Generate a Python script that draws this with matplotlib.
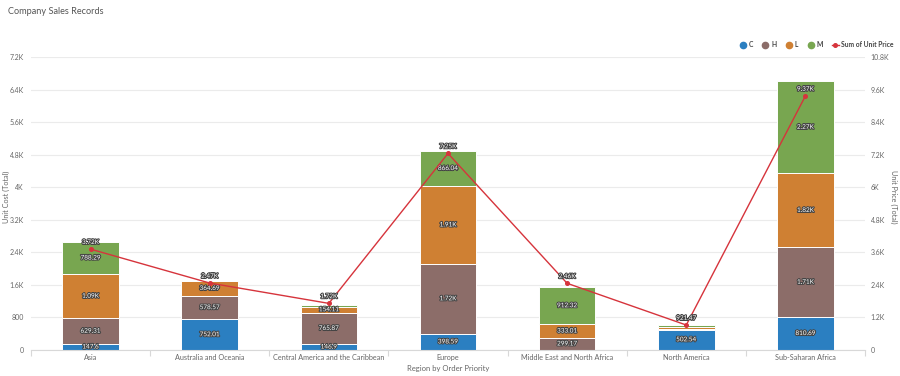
import matplotlib
matplotlib.use("Agg")
import matplotlib.pyplot as plt
import matplotlib.patheffects as pe
import numpy as np
from matplotlib.lines import Line2D

plt.rcParams["font.family"] = ["Lato", "DejaVu Sans"]

regions = ["Asia", "Australia and Oceania", "Central America and the Caribbean", "Europe",
           "Middle East and North Africa", "North America", "Sub-Saharan Africa"]
cost_c = [147.6, 752.01, 146.9, 398.59, 0, 502.54, 810.69]
cost_h = [629.31, 578.57, 765.87, 1720, 299.17, 15, 1710]
cost_l = [1090, 364.69, 154.11, 1910, 333.01, 45, 1820]
cost_m = [788.29, 0, 40, 866.04, 912.32, 50, 2270]
unit_price = [3720, 2470, 1720, 7250, 2460, 921.47, 9370]

left_ticks = [0, 800, 1600, 2400, 3200, 4000, 4800, 5600, 6400, 7200]
right_ticks = [0, 1200, 2400, 3600, 4800, 6000, 7200, 8400, 9600, 10800]

COLORS = {"C": "#2b7fc1", "H": "#8c6d69", "L": "#cf8033", "M": "#78a650"}
RED = "#d6343c"
GRID = "#ebebeb"
TXT = "#666666"


def fmt_tick(v):
    if v >= 1000:
        return f"{v/1000:g}K"
    return f"{v:g}"


def fmt_val(v):
    if v >= 1000:
        return f"{v/1000:.2f}".rstrip("0").rstrip(".") + "K"
    return f"{v:.2f}".rstrip("0").rstrip(".")


halo = [pe.withStroke(linewidth=1.5, foreground="#444444")]

fig = plt.figure(figsize=(9, 3.76), dpi=100)
ax = fig.add_axes([0.0344, 0.0691, 0.9267, 0.7789])
ax2 = ax.twinx()

x = np.arange(len(regions))
bottom = np.zeros(len(regions))
for name, vals in [("C", cost_c), ("H", cost_h), ("L", cost_l), ("M", cost_m)]:
    vals = np.array(vals, dtype=float)
    ax.bar(x, vals, width=0.475, bottom=bottom, color=COLORS[name],
           edgecolor="white", linewidth=0.7, zorder=2)
    for xi, b, v in zip(x, bottom, vals):
        if v >= 120:
            ax.text(xi, b + v / 2, fmt_val(v), ha="center", va="center", fontsize=4.6,
                    color="white", path_effects=halo, zorder=4)
    bottom += vals

ax.set_xlim(-0.5, len(regions) - 0.5)
ax.set_ylim(0, 7200)
ax.set_yticks(left_ticks)
ax.set_yticklabels([fmt_tick(t) for t in left_ticks])
ax.grid(axis="y", color=GRID, lw=0.8, zorder=0)
ax.set_axisbelow(True)
ax.set_xticks(x)
ax.set_xticklabels(regions)
ax.set_xticks(np.arange(len(regions) + 1) - 0.5, minor=True)
ax.tick_params(axis="x", which="major", length=0, labelsize=5.2, labelcolor=TXT, pad=3)
ax.tick_params(axis="x", which="minor", length=4, color="#d8d8d8", width=0.8)
ax.tick_params(axis="y", length=0, labelsize=5.0, labelcolor=TXT, pad=5)
for s in ["top", "right", "left"]:
    ax.spines[s].set_visible(False)
ax.spines["bottom"].set_color("#d8d8d8")
ax.spines["bottom"].set_linewidth(0.8)
ax.set_xlabel("Region by Order Priority", fontsize=5.5, color=TXT, labelpad=3)

ax2.plot(x, unit_price, color=RED, lw=1.0, marker="o", ms=2.6, zorder=5)
for xi, v in zip(x, unit_price):
    ax2.annotate(fmt_val(v), (xi, v), xytext=(0, 3), textcoords="offset points",
                 ha="center", va="bottom", fontsize=4.6, color="white",
                 path_effects=halo, zorder=6)
ax2.set_ylim(0, 10800)
ax2.set_yticks(right_ticks)
ax2.set_yticklabels([fmt_tick(t) for t in right_ticks])
ax2.tick_params(axis="y", length=0, labelsize=5.0, labelcolor=TXT, pad=4)
for s in ["top", "right", "left", "bottom"]:
    ax2.spines[s].set_visible(False)

fig.text(6 / 900, 1 - 197 / 376, "Unit Cost (Total)", fontsize=5.2, color=TXT,
         rotation=90, ha="center", va="center")
fig.text(894 / 900, 1 - 197 / 376, "Unit Price (Total)", fontsize=5.2, color=TXT,
         rotation=270, ha="center", va="center")

fig.text(0.009, 0.982, "Company Sales Records", fontsize=6.6, color="#555555",
         ha="left", va="top")

handles = [Line2D([], [], ls="none", marker="o", ms=4.5, color=COLORS[k], label=k)
           for k in ["C", "H", "L", "M"]]
handles.append(Line2D([], [], color=RED, lw=1.0, marker="o", ms=2.6, label="Sum of Unit Price"))
leg = fig.legend(handles=handles, loc="center right", bbox_to_anchor=(1.0, 0.881), ncol=5,
                 frameon=False, fontsize=4.9, handlelength=1.0, handletextpad=0.4,
                 columnspacing=1.3, labelcolor="#444444")
for t in leg.get_texts():
    t.set_fontweight("bold")

fig.savefig("out.png", dpi=100, facecolor="white")
